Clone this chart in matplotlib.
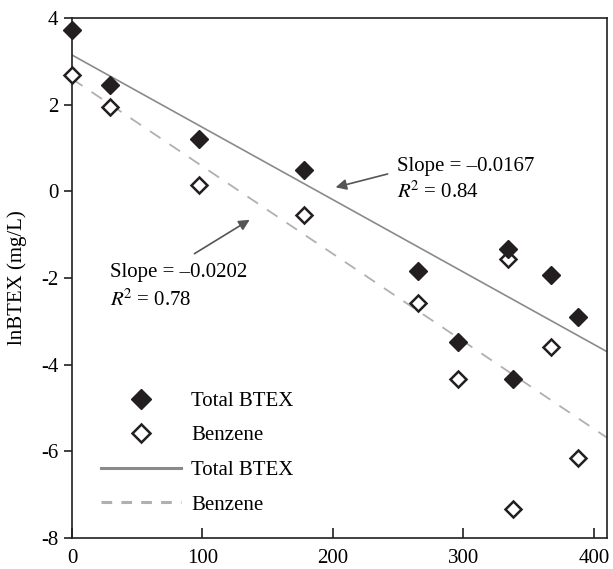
import numpy as np
import matplotlib
matplotlib.use('Agg')
import matplotlib.pyplot as plt
from matplotlib.lines import Line2D

plt.rcParams['font.family'] = ['Liberation Serif', 'DejaVu Serif']
plt.rcParams['mathtext.fontset'] = 'stix'
plt.rcParams['axes.unicode_minus'] = False

# ── 데이터 ─────────────────────────────────────────────
btex_x = [0, 29, 97, 178, 265, 296, 334, 338, 367, 388]
btex_y = [3.72, 2.45, 1.20, 0.49, -1.83, -3.47, -1.32, -4.32, -1.94, -2.89]

benz_x = [0, 29, 97, 178, 265, 296, 334, 338, 367, 388]
benz_y = [2.68, 1.94, 0.16, -0.55, -2.57, -4.32, -1.57, -7.33, -3.58, -6.15]

# 회귀선 (절편, 기울기)
btex_fit = (3.15, -0.0167)
benz_fit = (2.60, -0.0202)

x_ticks = [0, 100, 200, 300, 400]
y_ticks = [-8, -6, -4, -2, 0, 2, 4]

# ── 그림 ───────────────────────────────────────────────
fig = plt.figure(figsize=(6.13, 5.69), dpi=100)
ax = fig.add_axes([0.1175, 0.0545, 0.8725, 0.9135])

xx = np.array([0, 410])
ax.plot(xx, btex_fit[0] + btex_fit[1] * xx, '-', color='#8a8a8a', lw=1.2, zorder=2)
ax.plot(xx, benz_fit[0] + benz_fit[1] * xx, '--', color='#b0b0b0', lw=1.3,
        dashes=(7, 6), zorder=2)

ax.plot(btex_x, btex_y, 'D', color='#231f20', ms=9.5, zorder=4, clip_on=False)
ax.plot(benz_x, benz_y, 'D', mfc='white', mec='#231f20', mew=1.8, ms=8.5,
        zorder=3, clip_on=False)

# 주석
ax.text(249, 0.58, 'Slope = \u20130.0167', fontsize=15, va='center')
ax.text(249, -0.02, r'$R^{\!2}$ = 0.84', fontsize=15, va='center')
ax.annotate('', xy=(200, 0.08), xytext=(244, 0.42),
            arrowprops=dict(arrowstyle='-|>', color='#555555', lw=1.2,
                            mutation_scale=16))

ax.text(29, -1.88, 'Slope = \u20130.0202', fontsize=15, va='center')
ax.text(29, -2.50, r'$R^{\!2}$ = 0.78', fontsize=15, va='center')
ax.annotate('', xy=(138, -0.62), xytext=(92, -1.47),
            arrowprops=dict(arrowstyle='-|>', color='#555555', lw=1.2,
                            mutation_scale=16))

# 범례
handles = [
    Line2D([], [], ls='none', marker='D', color='#231f20', ms=10),
    Line2D([], [], ls='none', marker='D', mfc='white', mec='#231f20', mew=1.8, ms=9.5),
    Line2D([], [], ls='-', color='#8a8a8a', lw=2.2),
    Line2D([], [], ls='--', color='#b0b0b0', lw=2.2, dashes=(3.5, 3)),
]
labels = ['Total BTEX', 'Benzene', 'Total BTEX', 'Benzene']
ax.legend(handles, labels, loc='lower left', bbox_to_anchor=(0.055, 0.045),
          frameon=False, fontsize=15, handlelength=3.8, handletextpad=0.5,
          labelspacing=0.72, borderpad=0, borderaxespad=0)

ax.set_xlim(0, 410)
ax.set_ylim(-8, 4)
ax.set_xticks(x_ticks)
ax.set_yticks(y_ticks)
ax.tick_params(axis='x', direction='in', length=7, width=1.2, labelsize=15, pad=8,
               color='#231f20')
ax.tick_params(axis='y', direction='out', length=6, width=1.2, labelsize=15, pad=4,
               color='#231f20')
ax.set_ylabel('lnBTEX (mg/L)', fontsize=15, labelpad=10)
for s in ax.spines.values():
    s.set_color('#231f20')
    s.set_linewidth(1.2)

fig.savefig('out.png', dpi=100)
